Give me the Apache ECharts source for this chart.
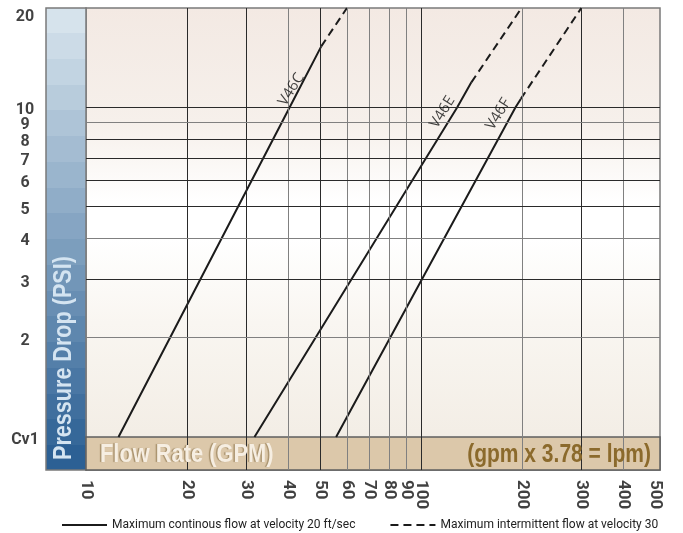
<!DOCTYPE html>
<html>
<head>
<meta charset="utf-8">
<script src="https://cdn.jsdelivr.net/npm/echarts@6/dist/echarts.min.js"></script>
<style>
  html, body { margin: 0; padding: 0; background: #fff; }
  #chart { width: 683px; height: 533px; }
</style>
</head>
<body>
<div id="chart"></div>
<script>
// axis ranges
const xMin = 10, xMax = 515;
const yMin = 0.794, yMax = 20;

// tick labels
const xTicks = [10, 20, 30, 40, 50, 60, 70, 80, 90, 100, 200, 300, 400, 500];
const yTicks = [20, 10, 9, 8, 7, 6, 5, 4, 3, 2, 1];
const yTickLabels = ["20", "10", "9", "8", "7", "6", "5", "4", "3", "2", "Cv1"];

// grid lines (dark / light)
const xGridDark = [20, 30, 50, 100, 300];
const xGridGray = [40, 60, 70, 80, 90, 200, 400];
const yGridDark = [3, 5, 6, 7, 8, 10];
const yGridGray = [2, 4, 9];

// flow rate (GPM), pressure drop (PSI)
const v46cSolid = [[12.5, 1], [40.5, 10], [50.3, 15.3]];
const v46cDashed = [[50.3, 15.3], [60, 20]];
const v46eSolid = [[31.8, 1], [128, 10], [141, 11.9]];
const v46eDashed = [[141, 11.9], [199, 20]];
const v46fSolid = [[55.7, 1], [191, 10], [198, 10.6]];
const v46fDashed = [[198, 10.6], [300, 20]];

const valveNames = ["V46C", "V46E", "V46F"];

const solidName = "Maximum continous flow at velocity 20 ft/sec";
const dashedName = "Maximum intermittent flow at velocity 30";

const boldFont = '"Liberation Sans", Arial, sans-serif';
const tickFont = 'Roboto, "Liberation Sans", sans-serif';

// label sits above-left of each line, near where it crosses 10 psi
const valveLabelOffset = [[16, -8], [-12, -10], [-15, -11]];
const valveLabelAt = [v46cSolid, v46eSolid, v46fSolid].map(s => s.find(p => p[1] === 10));

// stepped blue side bar
const barTop = [214, 227, 236], barBottom = [44, 96, 148];
const barSteps = 18;
const barStops = [];
for (let i = 0; i < barSteps; i++) {
  const t = i / (barSteps - 1);
  const c = barTop.map((v, k) => Math.round(v + (barBottom[k] - v) * t));
  const col = "rgb(" + c.join(",") + ")";
  barStops.push({ offset: i / barSteps, color: col }, { offset: (i + 1) / barSteps, color: col });
}

const chart = echarts.init(document.getElementById("chart"));

function flowLine(name, data, dashed) {
  return {
    name: name,
    type: "line",
    data: data,
    symbol: "none",
    z: 4,
    silent: true,
    lineStyle: { color: "#1b1b1b", width: 2, type: dashed ? [8, 5] : "solid" },
    itemStyle: { color: "#1b1b1b" },
  };
}

function tickLabels(name, data, label) {
  return {
    type: "scatter",
    name: name,
    z: 5,
    silent: true,
    clip: false,
    symbolSize: 1,
    itemStyle: { color: "rgba(0,0,0,0)" },
    data: data,
    label: Object.assign({ show: true, position: "inside", color: "#111" }, label),
  };
}

const gridLines = [].concat(
  xGridDark.map(v => ({ xAxis: v, lineStyle: { color: "#2a2a2a" } })),
  xGridGray.map(v => ({ xAxis: v, lineStyle: { color: "#808080" } })),
  yGridDark.map(v => ({ yAxis: v, lineStyle: { color: "#2a2a2a" } })),
  yGridGray.map(v => ({ yAxis: v, lineStyle: { color: "#808080" } }))
);

chart.setOption({
  animation: false,
  grid: {
    left: 86,
    right: 23,
    top: 8,
    bottom: 63,
    show: true,
    borderColor: "#7a7a7a",
    borderWidth: 1.5,
    backgroundColor: {
      type: "linear", x: 0, y: 0, x2: 0, y2: 1,
      colorStops: [
        { offset: 0, color: "#f3e9e3" },
        { offset: 0.25, color: "#f6f0eb" },
        { offset: 0.42, color: "#ffffff" },
        { offset: 0.5, color: "#ffffff" },
        { offset: 0.68, color: "#f9f6f1" },
        { offset: 1, color: "#f1ebe2" },
      ],
    },
  },
  xAxis: {
    type: "log",
    logBase: 10,
    min: xMin,
    max: xMax,
    axisLine: { show: false },
    axisTick: { show: false },
    axisLabel: { show: false },
    splitLine: { show: false },
  },
  yAxis: {
    type: "log",
    logBase: 10,
    min: yMin,
    max: yMax,
    axisLine: { show: false },
    axisTick: { show: false },
    axisLabel: { show: false },
    splitLine: { show: false },
  },
  legend: {
    data: [solidName, dashedName],
    left: 61,
    top: 519,
    padding: 0,
    itemWidth: 45,
    itemHeight: 10,
    itemGap: 34,
    selectedMode: false,
    itemStyle: { opacity: 0 },
    textStyle: { color: "#222", fontSize: 12, fontFamily: "Roboto, sans-serif" },
  },
  graphic: [
    {
      type: "rect",
      shape: { x: 46, y: 8, width: 40, height: 462 },
      style: {
        fill: { type: "linear", x: 0, y: 0, x2: 0, y2: 1, colorStops: barStops },
        stroke: "#7a7a7a",
        lineWidth: 1.5,
      },
      silent: true,
    },
    {
      type: "text",
      x: 64,
      y: 460,
      rotation: Math.PI / 2,
      scaleX: 0.83,
      silent: true,
      z: 10,
      style: {
        text: "Pressure Drop (PSI)",
        fill: "#d4e4f1",
        fontSize: 26,
        fontWeight: "bold",
        fontFamily: boldFont,
        align: "left",
        verticalAlign: "middle",
      },
    },
    {
      type: "text",
      x: 100,
      y: 455,
      scaleX: 0.84,
      silent: true,
      z: 10,
      style: {
        text: "Flow Rate (GPM)",
        fill: "#f6eee2",
        fontSize: 26,
        fontWeight: "bold",
        fontFamily: boldFont,
        align: "left",
        verticalAlign: "middle",
        textShadowColor: "#a8916c",
        textShadowOffsetX: -1.5,
        textShadowBlur: 1,
      },
    },
    {
      type: "text",
      x: 651,
      y: 455,
      scaleX: 0.84,
      silent: true,
      z: 10,
      style: {
        text: "(gpm x 3.78 = lpm)",
        fill: "#8b6a2c",
        fontSize: 25,
        fontWeight: "bold",
        fontFamily: boldFont,
        align: "right",
        verticalAlign: "middle",
      },
    },
  ],
  series: [
    // grid lines
    {
      type: "line",
      name: "grid",
      data: [],
      z: 1,
      silent: true,
      markLine: {
        silent: true,
        symbol: "none",
        animation: false,
        label: { show: false },
        lineStyle: { width: 1, type: "solid" },
        data: gridLines,
      },
    },
    // flow rate band below Cv1
    {
      type: "line",
      name: "band",
      data: [],
      z: 2,
      silent: true,
      markArea: {
        silent: true,
        label: { show: false },
        data: [
          [
            {
              xAxis: xMin, yAxis: yMin,
              itemStyle: { color: "#dcc8aa", opacity: 1, borderColor: "#5f5f5f", borderWidth: 1.5 },
            },
            { xAxis: xMax, yAxis: 1 },
          ],
        ],
      },
    },
    flowLine(solidName, v46cSolid, false),
    flowLine(solidName, v46eSolid, false),
    flowLine(solidName, v46fSolid, false),
    flowLine(dashedName, v46cDashed, true),
    flowLine(dashedName, v46eDashed, true),
    flowLine(dashedName, v46fDashed, true),
    // valve names along the lines
    tickLabels(
      "valves",
      valveLabelAt.map((p, i) => ({ value: p, name: valveNames[i], label: { offset: valveLabelOffset[i] } })),
      { formatter: "{b}", rotate: 58, color: "#111", fontSize: 15, fontFamily: '"Open Sans", sans-serif' }
    ),
    // y tick labels
    tickLabels(
      "yTicks",
      yTicks.map((v, i) => ({ value: [xMin, v], name: yTickLabels[i], label: { offset: [-61, v === yMax ? 9 : 3] } })),
      { formatter: "{b}", align: "center", verticalAlign: "middle", fontSize: 16, fontWeight: "bold", fontFamily: tickFont }
    ),
    // x tick labels
    tickLabels(
      "xTicks",
      xTicks.map(v => [v, yMin]),
      {
        offset: [10, 0], rotate: -90, align: "left", verticalAlign: "middle",
        formatter: p => String(p.value[0]),
        fontSize: 17, fontWeight: "bold", fontFamily: tickFont,
      }
    ),
  ],
});
</script>
</body>
</html>
